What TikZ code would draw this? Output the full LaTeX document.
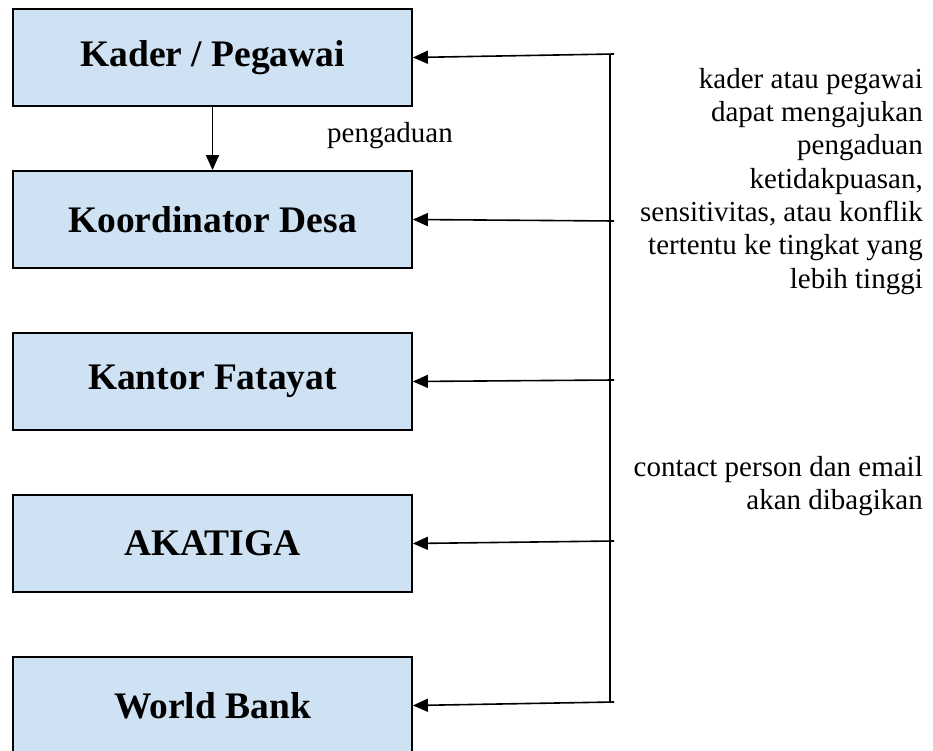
\documentclass[tikz,border=0pt]{standalone}
\usepackage{fontspec}
\setmainfont{Liberation Serif}
\usetikzlibrary{arrows.meta}
\definecolor{boxfill}{RGB}{207,226,243}
\begin{document}
\begin{tikzpicture}[x=1pt,y=-1pt,
  box/.style={draw=black, line width=1.8pt, fill=boxfill, minimum width=399pt, minimum height=97pt, inner sep=0pt, font=\fontsize{37.5}{44}\selectfont\bfseries},
  conn/.style={line width=1.6pt},
  arr/.style={conn, -{Triangle[length=15pt,width=13pt]}},
  note/.style={align=right, inner sep=0pt, font=\fontsize{29}{33.3}\selectfont}]
\useasboundingbox (0,0) rectangle (933,751);
\node[box] (k1) at (212.5,57.5) {Kader / Pegawai};
\node[box] (k2) at (212.5,219.5) {Koordinator Desa};
\node[box] (k3) at (212.5,381.5) {Kantor Fatayat};
\node[box] (k4) at (212.5,543.5) {AKATIGA};
\node[box] (k5) at (212.5,705.5) {World Bank};
\draw[arr] (k1) -- (k2);
\node[font=\fontsize{29}{33}\selectfont, anchor=base west, inner sep=0pt] (lab) at (327,143) {pengaduan};
\coordinate (v1) at (610,54);
\coordinate (v5) at (610,702);
\draw[conn] (v1) -- (v5);
\coordinate (r1) at (614,54);
\coordinate (r2) at (614,221);
\coordinate (r3) at (614,380);
\coordinate (r4) at (614,541);
\coordinate (r5) at (614,702);
\draw[arr] (r1) -- (k1.east);
\draw[arr] (r2) -- (k2.east);
\draw[arr] (r3) -- (k3.east);
\draw[arr] (r4) -- (k4.east);
\draw[arr] (r5) -- (k5.east);
\node[note, anchor=north east] (n1) at (923,68) {kader atau pegawai\\dapat mengajukan\\pengaduan\\ketidakpuasan,\\sensitivitas, atau konflik\\tertentu ke tingkat yang\\lebih tinggi};
\node[note, anchor=north east] (n2) at (923,456) {contact person dan email\\akan dibagikan};
\end{tikzpicture}
\end{document}
